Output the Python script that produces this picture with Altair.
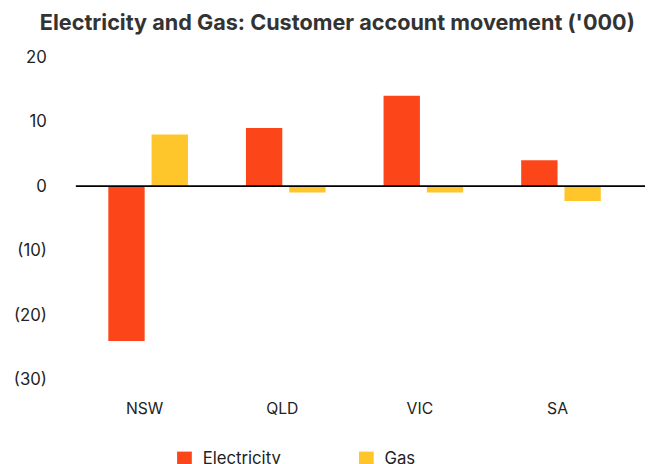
import altair as alt
import pandas as pd

states = ["NSW", "QLD", "VIC", "SA"]
electricity = [-24, 9, 14, 4]
gas = [8, -1, -1, -2.3]
series = ["Electricity", "Gas"]
colors = ["#FC461A", "#FFC62B"]
y_ticks = [-30, -20, -10, 0, 10, 20]

rows = []
for i, s in enumerate(states):
    rows.append({"state": s, "series": "Electricity", "value": electricity[i]})
    rows.append({"state": s, "series": "Gas", "value": gas[i]})
df = pd.DataFrame(rows)

FONT = "Inter"
W = 560
H = 328

bars = alt.Chart(df).mark_bar().encode(
    x=alt.X("state:N", sort=states, title=None,
            scale=alt.Scale(paddingInner=0, paddingOuter=0),
            axis=alt.Axis(labelAngle=0, domain=False, ticks=False, labelPadding=22,
                          labelFontSize=16, labelColor="#222222", labelFont=FONT)),
    xOffset=alt.XOffset("series:N", sort=series,
                        scale=alt.Scale(paddingInner=0.16, paddingOuter=0.67, align=0.56)),
    y=alt.Y("value:Q", title=None,
            scale=alt.Scale(domain=[-30, 20], nice=False),
            axis=alt.Axis(values=y_ticks, domain=False, ticks=False, grid=False,
                          labelPadding=30, labelFontSize=17, labelColor="#222222",
                          labelFont=FONT,
                          labelExpr="datum.value < 0 ? '(' + abs(datum.value) + ')' : datum.value")),
    color=alt.Color("series:N", sort=series,
                    scale=alt.Scale(domain=series, range=colors),
                    legend=alt.Legend(title=None, orient="none", direction="horizontal",
                                      legendX=102, legendY=400,
                                      symbolType="square", symbolSize=225,
                                      symbolStrokeWidth=0, symbolOpacity=1,
                                      labelFontSize=17, labelFont=FONT, labelColor="#222222",
                                      labelOffset=10, columnPadding=78)),
)

zero = pd.DataFrame({"v": [0]})
rule = alt.Chart(zero).mark_rule(color="#000000", strokeWidth=2).encode(
    y="v:Q", x=alt.value(0), x2=alt.value(579)
)

chart = alt.layer(bars, rule).properties(
    width=W, height=H,
    padding={"left": 5, "top": 0, "right": 0, "bottom": 0},
    title=alt.TitleParams("Electricity and Gas: Customer account movement ('000)",
                          font=FONT, fontSize=22, fontWeight="bold", color="#333333",
                          anchor="middle", offset=14, dx=-14),
).configure_view(stroke=None)

chart.save("out.html", embed_options={"renderer": "svg", "actions": False})
